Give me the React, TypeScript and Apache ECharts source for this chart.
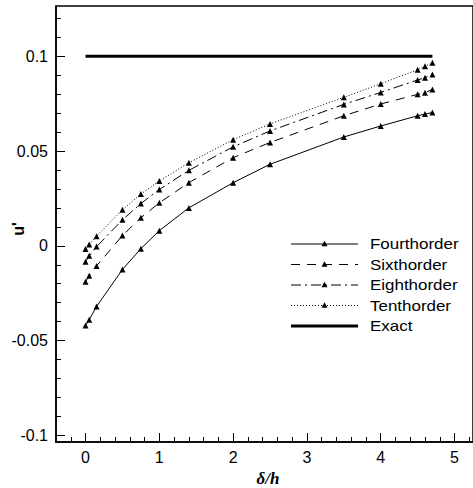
import React, { useEffect, useRef } from "react";
import * as echarts from "echarts";

const xs = [0, 0.05, 0.15, 0.5, 0.75, 1, 1.4, 2, 2.5, 3.5, 4, 4.5, 4.6, 4.7];
const fourth = [-0.042, -0.039, -0.032, -0.0125, -0.0015, 0.008, 0.02, 0.0333, 0.043, 0.0574, 0.0632, 0.0686, 0.0695, 0.0703];
const sixth = [-0.019, -0.0158, -0.0106, 0.0054, 0.0148, 0.0227, 0.0333, 0.0465, 0.0545, 0.0686, 0.0748, 0.0799, 0.0808, 0.0825];
const eighth = [-0.0084, -0.0053, -0.0004, 0.0137, 0.0223, 0.0297, 0.0398, 0.0522, 0.0606, 0.0746, 0.0809, 0.0875, 0.0887, 0.0903];
const tenth = [-0.0017, 0.0007, 0.0051, 0.019, 0.0273, 0.0342, 0.0438, 0.056, 0.0643, 0.0783, 0.0855, 0.0929, 0.0947, 0.0965];
const exactX = [0, 4.7];
const exactY = [0.1, 0.1];

const seriesNames = ["Fourthorder", "Sixthorder", "Eighthorder", "Tenthorder", "Exact"];

const xMajor = [0, 1, 2, 3, 4, 5];
const xMinor = [-0.2, 0.2, 0.4, 0.6, 0.8, 1.2, 1.4, 1.6, 1.8, 2.2, 2.4, 2.6, 2.8, 3.2, 3.4, 3.6, 3.8, 4.2, 4.4, 4.6, 4.8, 5.2];
const yMajor = [-0.1, -0.05, 0, 0.05, 0.1];
const yMinor = [-0.09, -0.08, -0.07, -0.06, -0.04, -0.03, -0.02, -0.01, 0.01, 0.02, 0.03, 0.04, 0.06, 0.07, 0.08, 0.09, 0.11, 0.12];

const FONT = "Liberation Sans, Arial, sans-serif";

function pairs(x: number[], y: number[]) {
  return x.map((v, i) => [v, y[i]]);
}

export default function App() {
  const ref = useRef<HTMLDivElement>(null);
  useEffect(() => {
    if (!ref.current) return;
    const chart = echarts.init(ref.current, undefined, { renderer: "svg" });
    const xRange = { min: -0.4, max: 5.25 };
    const yRange = { min: -0.1035, max: 0.1265 };
    const black = "#000";
    const dashes: any[] = ["solid", [9, 7], [10, 4, 2, 4], [1, 2], "solid"];
    const mk = (name: string, data: number[], type: any) => ({
      name,
      type: "line",
      data: pairs(xs, data),
      symbol: "triangle",
      symbolSize: 6,
      showSymbol: true,
      itemStyle: { color: black },
      lineStyle: { color: black, width: 1, type },
      z: 3,
    });

    // custom legend
    const lx0 = 291;
    const lx1 = 358;
    const rowY = [244, 264.5, 285, 305.5, 326];
    const legendEls: any[] = [];
    seriesNames.forEach((nm, i) => {
      const y = rowY[i];
      const isExact = i === 4;
      const d = dashes[i];
      legendEls.push({
        type: "line",
        shape: { x1: lx0, y1: y, x2: lx1, y2: y },
        style: {
          stroke: black,
          lineWidth: isExact ? 3 : 1,
          lineDash: Array.isArray(d) ? d : null,
        },
      });
      if (!isExact) {
        const cx = (lx0 + lx1) / 2;
        legendEls.push({
          type: "polygon",
          shape: { points: [[cx, y - 3.2], [cx - 3, y + 2.2], [cx + 3, y + 2.2]] },
          style: { fill: black },
        });
      }
      legendEls.push({
        type: "text",
        x: 370,
        y: y,
        scaleX: 1.13,
        style: { text: nm, font: "15px " + FONT, fill: black, verticalAlign: "middle", align: "left" },
      });
    });

    chart.setOption({
      animation: false,
      backgroundColor: "#fff",
      grid: {
        left: 56,
        top: 6,
        width: 418,
        height: 436,
        show: true,
        borderColor: black,
        borderWidth: 1.5,
        backgroundColor: "transparent",
      },
      xAxis: [
        {
          type: "value",
          ...xRange,
          position: "bottom",
          axisLine: { show: true, onZero: false, lineStyle: { color: black, width: 1.5 } },
          axisTick: { show: true, inside: true, length: 9, customValues: xMajor, lineStyle: { color: black, width: 1 } },
          axisLabel: { show: true, customValues: xMajor, color: black, fontSize: 16, fontFamily: FONT, margin: 7 },
          splitLine: { show: false },
        },
        {
          type: "value",
          ...xRange,
          position: "bottom",
          axisLine: { show: false, onZero: false },
          axisTick: { show: true, inside: true, length: 5, customValues: xMinor, lineStyle: { color: black, width: 1 } },
          axisLabel: { show: false },
          splitLine: { show: false },
        },
      ],
      yAxis: [
        {
          type: "value",
          ...yRange,
          position: "left",
          axisLine: { show: true, onZero: false, lineStyle: { color: black, width: 1.5 } },
          axisTick: { show: true, inside: true, length: 9, customValues: yMajor, lineStyle: { color: black, width: 1 } },
          axisLabel: {
            show: true,
            customValues: yMajor,
            color: black,
            fontSize: 16,
            fontFamily: FONT,
            margin: 8,
            formatter: (v: number) => String(Math.round(v * 1000) / 1000),
          },
          splitLine: { show: false },
        },
        {
          type: "value",
          ...yRange,
          position: "left",
          axisLine: { show: false, onZero: false },
          axisTick: { show: true, inside: true, length: 5, customValues: yMinor, lineStyle: { color: black, width: 1 } },
          axisLabel: { show: false },
          splitLine: { show: false },
        },
      ],
      graphic: [
        ...legendEls,
        {
          type: "text",
          x: 18,
          y: 229,
          rotation: Math.PI / 2,
          style: {
            text: "u'",
            font: "bold 16px Liberation Sans, Arial, sans-serif",
            fill: black,
            align: "center",
            verticalAlign: "middle",
          },
        },
        {
          type: "text",
          x: 268,
          y: 478,
          style: {
            text: "δ/h",
            font: "italic bold 17px Liberation Serif, Times New Roman, serif",
            fill: black,
            align: "center",
            verticalAlign: "middle",
          },
        },
      ],
      series: [
        mk(seriesNames[0], fourth, dashes[0]),
        mk(seriesNames[1], sixth, dashes[1]),
        mk(seriesNames[2], eighth, dashes[2]),
        mk(seriesNames[3], tenth, dashes[3]),
        {
          name: seriesNames[4],
          type: "line",
          data: pairs(exactX, exactY),
          symbol: "none",
          itemStyle: { color: black },
          lineStyle: { color: black, width: 3, type: "solid" },
          z: 3,
        },
      ],
    });
    return () => chart.dispose();
  }, []);
  return (
    <div
      ref={ref}
      style={{ position: "fixed", left: 0, top: 0, width: 473, height: 488, background: "#fff" }}
    />
  );
}
